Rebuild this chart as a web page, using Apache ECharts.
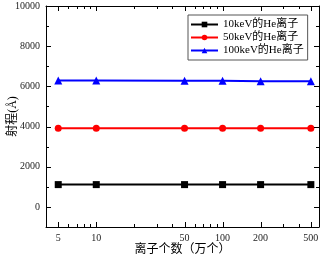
<!DOCTYPE html>
<html><head><meta charset="utf-8">
<script src="https://cdn.jsdelivr.net/npm/echarts@6/dist/echarts.min.js"></script>
<style>html,body{margin:0;padding:0;background:#fff}#c{width:326px;height:260px}</style>
</head><body><div id="c"></div>
<script>
const xValues = [5, 10, 50, 100, 200, 500];
const xMajorTicks = [5, 10, 50, 100, 200, 500];
const xMinorTicks = [6, 7, 8, 9, 20, 30, 40, 60, 70, 80, 90, 300, 400];
const yLabels = [0, 2000, 4000, 6000, 8000, 10000];
const yMinorTicks = [-1000, 1000, 3000, 5000, 7000, 9000];
const s10 = [1110, 1110, 1110, 1110, 1110, 1110];
const s50 = [3920, 3920, 3920, 3920, 3920, 3920];
const s100 = [6290, 6290, 6280, 6280, 6260, 6260];
const names = ['10keV的He离子', '50keV的He离子', '100keV的He离子'];
const X_MIN = 4, X_MAX = 580, Y_MIN = -1000, Y_MAX = 10000;
const FONT = '"Liberation Serif","Noto Sans CJK SC",serif';
const chart = echarts.init(document.getElementById('c'));

function xa(pos, label) {
  const a = {
    type: 'log', logBase: 10, min: X_MIN, max: X_MAX, position: pos,
    axisLine: {show: true, onZero: false, lineStyle: {color: '#000', width: 1}},
    axisTick: {show: false},
    axisLabel: label ? {show: true, customValues: xMajorTicks, color: '#222', fontFamily: FONT, fontSize: 10, margin: 6, formatter: v => String(v)} : {show: false},
    splitLine: {show: false}, minorTick: {show: false}
  };
  if (label) {
    a.name = '离子个数（万个）'; a.nameLocation = 'middle'; a.nameGap = 17; a.nameMoveOverlap = false;
    a.nameTextStyle = {fontFamily: FONT, fontSize: 12, color: '#000'};
  }
  return a;
}
function ya(pos, label) {
  const a = {
    type: 'value', min: Y_MIN, max: Y_MAX, position: pos,
    axisLine: {show: true, onZero: false, lineStyle: {color: '#000', width: 1}},
    axisTick: {show: false},
    axisLabel: label ? {show: true, customValues: yLabels, color: '#222', fontFamily: FONT, fontSize: 10, margin: 6, formatter: v => String(v)} : {show: false},
    splitLine: {show: false}
  };
  if (label) {
    a.name = '射程(Å)'; a.nameLocation = 'middle'; a.nameGap = 27; a.nameMoveOverlap = false;
    a.nameTextStyle = {fontFamily: FONT, fontSize: 12, color: '#000'};
  }
  return a;
}
// tick data: [value, kind (0 = x axis, 1 = y axis), length class (1 major, 0 minor)]
const tickData = [];
xMajorTicks.forEach(v => tickData.push([v, 0, 1]));
xMinorTicks.forEach(v => tickData.push([v, 0, 0]));
yLabels.forEach(v => tickData.push([v, 1, 1]));
yMinorTicks.forEach(v => tickData.push([v, 1, 0]));

function renderTick(params, api) {
  const v = api.value(0), k = api.value(1), L = api.value(2) ? 5 : 3;
  const st = {stroke: '#000', lineWidth: 1};
  if (k === 0) {
    const b = api.coord([v, Y_MIN]), t = api.coord([v, Y_MAX]);
    const x = Math.round(b[0]) + 0.5;
    return {type: 'group', children: [
      {type: 'line', shape: {x1: x, y1: b[1], x2: x, y2: b[1] - L}, style: st},
      {type: 'line', shape: {x1: x, y1: t[1], x2: x, y2: t[1] + L}, style: st}
    ]};
  }
  const l = api.coord([X_MIN, v]), r = api.coord([X_MAX, v]);
  const y = Math.round(l[1]) + 0.5;
  return {type: 'group', children: [
    {type: 'line', shape: {x1: l[0], y1: y, x2: l[0] + L, y2: y}, style: st},
    {type: 'line', shape: {x1: r[0], y1: y, x2: r[0] - L, y2: y}, style: st}
  ]};
}

function ser(name, vals, color, symbol) {
  return {
    name, type: 'line', xAxisIndex: 0, yAxisIndex: 0,
    data: xValues.map((x, i) => [x, vals[i]]),
    symbol, symbolSize: symbol === 'triangle' ? 8 : 7,
    lineStyle: {color, width: 2}, itemStyle: {color},
    emphasis: {disabled: true}
  };
}
chart.setOption({
  animation: false,
  grid: {left: 46, right: 7, top: 6, bottom: 33, containLabel: false, outerBoundsMode: 'none'},
  legend: {
    show: true, left: 188, top: 15, orient: 'vertical', itemGap: 2,
    itemWidth: 27, itemHeight: 7,
    padding: [4, 4, 4, 2], borderColor: '#555', borderWidth: 1,
    textStyle: {fontFamily: FONT, fontSize: 11, color: '#000', lineHeight: 11},
    data: names
  },
  xAxis: [xa('bottom', true), xa('top', false)],
  yAxis: [ya('left', true), ya('right', false)],
  series: [
    ser(names[0], s10, '#000000', 'rect'),
    ser(names[1], s50, '#ff0000', 'circle'),
    ser(names[2], s100, '#0000ff', 'triangle'),
    {type: 'custom', xAxisIndex: 0, yAxisIndex: 0, renderItem: renderTick, data: tickData,
     encode: {x: 0}, silent: true, z: 5, clip: false}
  ]
});
</script></body></html>
